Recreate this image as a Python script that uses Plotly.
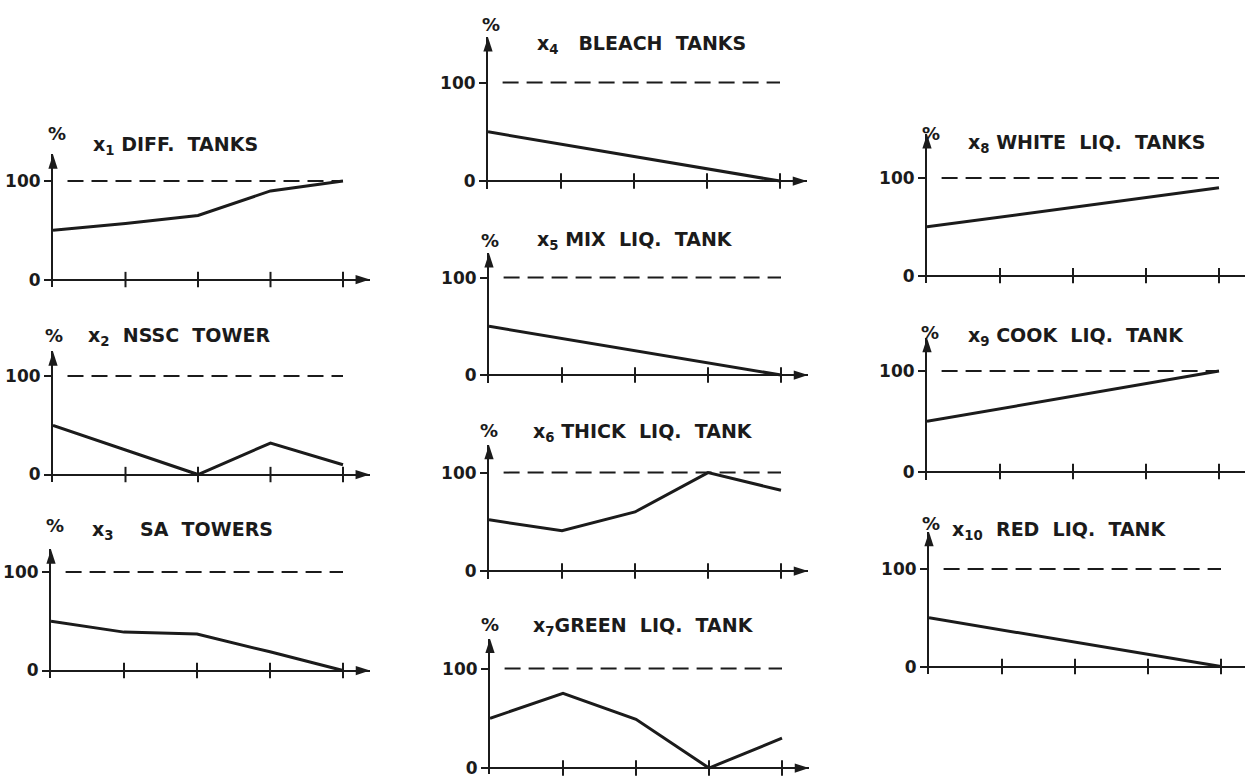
import plotly.graph_objects as go

# ---------------- data ----------------
X_POS = [0, 1, 2, 3, 4]            # abscissa positions of the polyline vertices
X_TICKS = [1, 2, 3, 4]             # crossing tick marks on the time axis
Y_TICKS = [0, 100]
Y_TICK_LABELS = ["0", "100"]
REF_LEVEL = 100                    # dashed 100 % level
REF_SPAN = [0.2, 4.0]              # extent of the dashed level line

x1_diff_tanks      = [50, 57, 65, 90, 100]
x2_nssc_tower      = [50, 25, 0, 32, 10]
x3_sa_towers       = [50, 39, 37, 19, 0]
x4_bleach_tanks    = [50, 37.5, 25, 12.5, 0]
x5_mix_liq_tank    = [50, 37.5, 25, 12.5, 0]
x6_thick_liq_tank  = [52, 41, 60, 100, 82]
x7_green_liq_tank  = [50, 75, 49, 0, 30]
x8_white_liq_tanks = [50, 60, 70, 80, 90]
x9_cook_liq_tank   = [50, 62.5, 75, 87.5, 100]
x10_red_liq_tank   = [50, 37.5, 25, 12.5, 0]

SUBSCRIPTS = ["1", "2", "3", "4", "5", "6", "7", "8", "9", "10"]
NAMES = ["DIFF.  TANKS", "NSSC  TOWER", "SA  TOWERS", "BLEACH  TANKS",
         "MIX  LIQ.  TANK", "THICK  LIQ.  TANK", "GREEN  LIQ.  TANK",
         "WHITE  LIQ.  TANKS", "COOK  LIQ.  TANK", "RED  LIQ.  TANK"]
GAPS = [1, 2, 4, 3, 1, 1, 0, 1, 1, 2]   # spaces between the x_i symbol and the name
SERIES = [x1_diff_tanks, x2_nssc_tower, x3_sa_towers, x4_bleach_tanks,
          x5_mix_liq_tank, x6_thick_liq_tank, x7_green_liq_tank,
          x8_white_liq_tanks, x9_cook_liq_tank, x10_red_liq_tank]

# ---------------- layout geometry (pixels) ----------------
W, H = 1245, 778
GEOM = [
    dict(X0=53,  DX=72.5, Y0=281, Y100=182, YTOP=127, TX=91,  TY=146, PX=57,  PY=134),
    dict(X0=53,  DX=72.5, Y0=477, Y100=378, YTOP=125, TX=86,  TY=338, PX=54,  PY=337),
    dict(X0=51,  DX=73,   Y0=674, Y100=575, YTOP=123, TX=90,  TY=533, PX=55,  PY=528),
    dict(X0=488, DX=73,   Y0=182, Y100=83,  YTOP=146, TX=535, TY=45,  PX=491, PY=25),
    dict(X0=489, DX=73,   Y0=377, Y100=279, YTOP=125, TX=535, TY=242, PX=490, PY=242),
    dict(X0=489, DX=73,   Y0=574, Y100=475, YTOP=128, TX=531, TY=435, PX=489, PY=433),
    dict(X0=490, DX=73,   Y0=772, Y100=672, YTOP=130, TX=531, TY=630, PX=490, PY=628),
    dict(X0=927, DX=73,   Y0=277, Y100=179, YTOP=145, TX=966, TY=144, PX=931, PY=134),
    dict(X0=927, DX=73,   Y0=474, Y100=373, YTOP=133, TX=966, TY=338, PX=930, PY=334),
    dict(X0=929, DX=73,   Y0=670, Y100=572, YTOP=138, TX=950, TY=533, PX=931, PY=526),
]
YMIN = -8
ARROW_X = 4.37
INK = "#1b1b1b"
FONT = "DejaVu Sans"

fig = go.Figure()
annotations = []
layout_axes = {}

for i, (vals, g) in enumerate(zip(SERIES, GEOM), start=1):
    xa = "x" if i == 1 else f"x{i}"
    ya = "y" if i == 1 else f"y{i}"
    ppu = (g["Y0"] - g["Y100"]) / 100.0
    xmax = min(ARROW_X, (W - g["X0"]) / g["DX"] - 0.002)
    ymin = max(YMIN, -(H - g["Y0"]) / ppu + 0.01)
    bottom_px = g["Y0"] - ymin * ppu
    top_px = g["Y0"] - g["YTOP"] * ppu
    xdom = [g["X0"] / W, min(1.0, (g["X0"] + xmax * g["DX"]) / W)]
    ydom = [max(0.0, 1 - bottom_px / H), min(1.0, 1 - top_px / H)]

    layout_axes["xaxis" if i == 1 else f"xaxis{i}"] = dict(
        domain=xdom, range=[0, xmax], anchor=ya,
        showgrid=False, zeroline=False, showline=False,
        showticklabels=False, ticks="", fixedrange=True)
    layout_axes["yaxis" if i == 1 else f"yaxis{i}"] = dict(
        domain=ydom, range=[ymin, g["YTOP"]], anchor=xa,
        showgrid=False, zeroline=True, zerolinecolor=INK, zerolinewidth=2,
        showline=True, linecolor=INK, linewidth=2,
        tickmode="array", tickvals=Y_TICKS, ticktext=Y_TICK_LABELS,
        ticks="outside", ticklen=7, tickwidth=2, tickcolor=INK,
        ticklabeloverflow="allow",
        tickfont=dict(family=FONT, size=17, color=INK, weight="bold"),
        fixedrange=True)

    fig.add_trace(go.Scatter(
        x=REF_SPAN, y=[REF_LEVEL, REF_LEVEL], xaxis=xa, yaxis=ya,
        mode="lines", line=dict(color=INK, width=2, dash="16px,8px"),
        hoverinfo="skip", cliponaxis=False))
    fig.add_trace(go.Scatter(
        x=X_POS, y=vals, xaxis=xa, yaxis=ya, mode="lines",
        line=dict(color=INK, width=3), cliponaxis=False))
    fig.add_trace(go.Scatter(
        x=X_TICKS, y=[0] * len(X_TICKS), xaxis=xa, yaxis=ya, mode="markers",
        marker=dict(symbol="line-ns", size=11, color=INK,
                    line=dict(width=2, color=INK)),
        hoverinfo="skip", cliponaxis=False))
    fig.add_trace(go.Scatter(
        x=[ARROW_X, 0], y=[0, g["YTOP"]], xaxis=xa, yaxis=ya, mode="markers",
        marker=dict(symbol="arrow", size=15, angle=[90, 0], color=INK,
                    line=dict(width=0)),
        hoverinfo="skip", cliponaxis=False))

    sp = "\u00a0" * GAPS[i - 1]
    name = NAMES[i - 1].replace(" ", "\u00a0")
    annotations.append(dict(
        xref="paper", yref="paper", x=g["TX"] / W, y=1 - g["TY"] / H,
        xanchor="left", yanchor="middle", showarrow=False,
        text=f"x<sub>{SUBSCRIPTS[i - 1]}</sub>{sp}{name}",
        font=dict(family=FONT, size=19, color=INK, weight="bold")))
    annotations.append(dict(
        xref="paper", yref="paper", x=g["PX"] / W, y=1 - g["PY"] / H,
        xanchor="center", yanchor="middle", showarrow=False, text="%",
        font=dict(family=FONT, size=18, color=INK, weight="bold")))

fig.update_layout(
    width=W, height=H, margin=dict(l=0, r=0, t=0, b=0),
    paper_bgcolor="white", plot_bgcolor="rgba(0,0,0,0)",
    showlegend=False, annotations=annotations, **layout_axes)

fig.write_html("out.html", config={"displayModeBar": False},
               post_script="document.body.style.margin='0';document.body.style.overflow='hidden';")
